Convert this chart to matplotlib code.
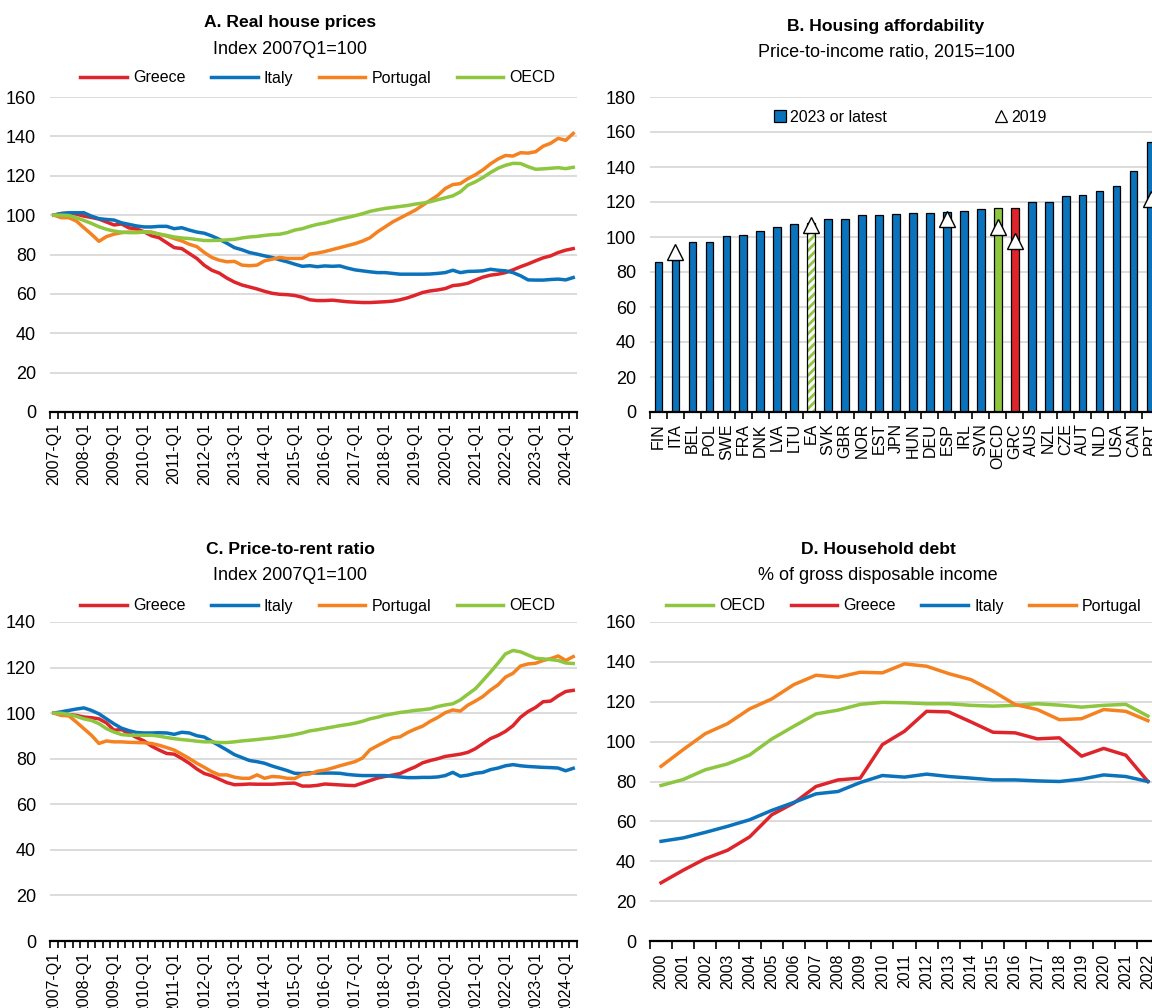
import matplotlib
matplotlib.use('Agg')
import matplotlib.pyplot as plt
from matplotlib.lines import Line2D
import numpy as np

plt.rcParams['font.family'] = ['Liberation Sans', 'DejaVu Sans']
plt.rcParams['font.size'] = 13
plt.rcParams['hatch.linewidth'] = 2.0

RED = '#DE252B'
BLUE = '#0A73BB'
ORANGE = '#F58220'
GREEN = '#8DC63F'
GRID = '#D9D9D9'

W, H = 1152, 1008

# ---- panel A : real house prices, quarterly 2007Q1-2024Q2
quarters = [f'{y}-Q{q}' for y in range(2007, 2025) for q in range(1, 5)][:70]
greece_a = [100, 100.8, 101, 100.5, 99.5, 98.8, 98, 96.5, 95, 95.5,
            93.5, 93, 91.5, 89.5, 88.5, 86, 83.5, 83, 80.5, 78,
            74.5, 72, 70.5, 68, 66, 64.5, 63.5, 62.5, 61.3, 60.3,
            59.8, 59.6, 59.2, 58.3, 57, 56.6, 56.6, 56.8, 56.4, 56,
            55.8, 55.6, 55.6, 55.8, 56, 56.3, 57, 58, 59.3, 60.7,
            61.5, 62, 62.7, 64.2, 64.6, 65.4, 67, 68.5, 69.5, 70,
            70.8, 72.2, 73.8, 75.2, 76.8, 78.3, 79.3, 81, 82.2, 83]
italy_a = [100, 100.8, 101.2, 101.2, 101.2, 99.5, 98.2, 97.8, 97.5, 96.1,
           95.3, 94.5, 94, 94, 94.3, 94.3, 93.1, 93.6, 92.4, 91.4,
           90.8, 89.4, 87.7, 85.7, 83.5, 82.4, 81, 80.2, 79.3, 78.5,
           77.3, 76.3, 75.1, 74, 74.3, 73.8, 74.2, 74, 74.2, 73.1,
           72.2, 71.7, 71.2, 70.8, 70.8, 70.4, 70, 70, 70, 70,
           70.1, 70.4, 70.8, 72, 70.8, 71.4, 71.5, 71.7, 72.5, 72,
           71.7, 70.8, 69.2, 67.1, 67, 67, 67.3, 67.5, 67.1, 68.3]
portugal_a = [100, 98.7, 98.7, 97, 93.6, 90.3, 86.7, 89.1, 90.3, 91.1,
              91.4, 91.4, 91.6, 91.4, 90.3, 89.4, 88.1, 86.9, 85.2, 84,
              81, 78.5, 77.1, 76.3, 76.5, 74.6, 74.3, 74.6, 76.8, 77.6,
              78.5, 78, 78, 78, 80.2, 80.7, 81.5, 82.5, 83.5, 84.5,
              85.5, 86.8, 88.5, 91.5, 94, 96.5, 98.5, 100.5, 102.5, 105,
              107.5, 110, 113.5, 115.5, 116, 118.5, 120.5, 123, 126, 128.5,
              130.3, 130, 131.7, 131.5, 132.2, 135, 136.5, 139, 138, 141.5]
oecd_a = [100, 100, 99.8, 98.7, 97.3, 95.8, 94.1, 92.8, 91.9, 91.4,
          91.1, 91.1, 91.4, 91.1, 90.4, 89.7, 88.9, 88.4, 88.1, 87.6,
          87.1, 87.1, 87.2, 87.4, 87.7, 88.4, 88.9, 89.2, 89.7, 90.1,
          90.3, 91.1, 92.4, 93.1, 94.3, 95.3, 96, 97, 98, 98.8,
          99.7, 100.7, 101.9, 102.7, 103.4, 103.9, 104.4, 104.9, 105.6, 106.1,
          106.8, 107.8, 108.8, 109.8, 111.8, 115.2, 116.9, 119.1, 121.6, 123.8,
          125.3, 126.3, 126.2, 124.6, 123.3, 123.5, 123.8, 124.1, 123.6, 124.3]

# ---- panel B : price-to-income ratio
countries = ['FIN', 'ITA', 'BEL', 'POL', 'SWE', 'FRA', 'DNK', 'LVA', 'LTU', 'EA',
             'SVK', 'GBR', 'NOR', 'EST', 'JPN', 'HUN', 'DEU', 'ESP', 'IRL', 'SVN',
             'OECD', 'GRC', 'AUS', 'NZL', 'CZE', 'AUT', 'NLD', 'USA', 'CAN', 'PRT']
latest = [86, 87, 97, 97.3, 100.5, 101.2, 103.7, 105.6, 107.5, 108,
          110.4, 110.4, 112.5, 112.6, 113, 113.6, 114, 114.5, 114.7, 116.2,
          116.4, 116.8, 120.2, 120.2, 123.4, 124, 126.2, 129.1, 138, 154.3]
tri_countries = ['ITA', 'EA', 'ESP', 'OECD', 'GRC', 'PRT']
tri_2019 = [91.5, 107, 110.4, 105.6, 97.8, 122]

# ---- panel C : price-to-rent ratio
greece_c = [100, 100, 99.4, 99, 98.3, 98, 97.5, 95.7, 92.5, 92.8,
            91, 89.3, 87.8, 85.5, 83.8, 82.3, 82, 80.1, 78, 75.5,
            73.5, 72.5, 71, 69.5, 68.6, 68.7, 68.9, 68.8, 68.8, 68.8,
            69, 69.2, 69.3, 68, 68, 68.3, 68.9, 68.7, 68.5, 68.3,
            68.2, 69.3, 70.4, 71.5, 72.2, 72.8, 73.5, 75, 76.4, 78.2,
            79.2, 80, 81, 81.5, 82, 82.8, 84.4, 86.6, 88.8, 90.2,
            92, 94.5, 98.2, 100.7, 102.5, 105, 105.3, 107.6, 109.5, 110]
italy_c = [100, 100.6, 101.2, 101.8, 102.3, 101.2, 99.7, 97.5, 95.3, 93.4,
           92.3, 91.5, 91.3, 91.3, 91.4, 91.3, 90.7, 91.6, 91.3, 90.1,
           89.5, 87.6, 85.7, 83.8, 81.8, 80.5, 79.2, 78.7, 78, 76.8,
           75.8, 74.8, 73.6, 73.5, 73.8, 73.7, 73.7, 73.7, 73.6, 73.1,
           72.8, 72.6, 72.6, 72.6, 72.6, 72.3, 72, 71.7, 71.7, 71.8,
           71.8, 72, 72.6, 74, 72.3, 72.8, 73.6, 74, 75.2, 75.9,
           76.9, 77.4, 76.9, 76.6, 76.4, 76.2, 76.1, 75.9, 74.7, 75.8]
portugal_c = [100, 99, 98.8, 96.1, 93.2, 90.3, 86.7, 87.8, 87.4, 87.4,
              87.2, 87.1, 87, 86.7, 85.9, 84.9, 83.8, 82, 80.1, 78,
              76.2, 74.3, 72.9, 72.9, 71.9, 71.4, 71.4, 72.9, 71.4, 72.2,
              72, 71.4, 71.3, 73, 73.3, 74.5, 75, 75.9, 76.9, 77.8,
              78.7, 80.3, 83.9, 85.7, 87.4, 89.1, 89.6, 91.5, 93, 94.3,
              96.4, 98.1, 100.2, 101.4, 100.9, 103.5, 105.3, 107.3, 110.1, 112.4,
              115.8, 117.5, 120.7, 121.6, 121.9, 123.1, 123.9, 125.1, 123.1, 124.8]
oecd_c = [100, 100, 99.4, 98.6, 97.5, 96.8, 95.4, 93.2, 91.7, 90.6,
          90.3, 90.3, 90.3, 90.3, 89.9, 89.3, 88.8, 88.4, 88.1, 87.7,
          87.4, 87.4, 87.1, 87.1, 87.4, 87.8, 88.1, 88.4, 88.8, 89.1,
          89.6, 90, 90.6, 91.3, 92.2, 92.7, 93.3, 93.9, 94.5, 95,
          95.6, 96.4, 97.5, 98.2, 99.1, 99.7, 100.3, 100.7, 101.2, 101.5,
          101.9, 102.9, 103.6, 104.1, 105.8, 108.3, 110.7, 114.3, 118, 121.9,
          126, 127.5, 126.9, 125.5, 124.1, 123.8, 123.5, 123.1, 122, 121.8]

# ---- panel D : household debt, annual
years = [str(y) for y in range(2000, 2023)]
oecd_d = [78, 81, 85.9, 88.8, 93.3, 101.3, 107.7, 113.9, 115.8, 118.7, 119.7, 119.5,
          119, 119, 118.2, 117.8, 118.2, 119, 118.3, 117.3, 118.2, 118.7, 112.8]
greece_d = [29.2, 35.5, 41.3, 45.5, 52.2, 63.3, 69.2, 77.5, 80.8, 81.7, 98.5, 105.2,
            115.2, 114.9, 109.9, 104.7, 104.4, 101.4, 101.9, 92.7, 96.6, 93.2, 80]
italy_d = [50, 51.7, 54.5, 57.5, 60.8, 65.5, 69.5, 73.8, 75, 79.5, 83, 82.2,
           83.7, 82.5, 81.7, 80.8, 80.8, 80.3, 80, 81.2, 83.3, 82.5, 80]
portugal_d = [87.6, 96, 104, 109, 116.4, 121.4, 128.6, 133.3, 132.3, 134.8, 134.5, 139,
              137.8, 134.1, 131.1, 125.3, 118.6, 116.1, 111, 111.5, 116.1, 115.2, 110.5]

fig = plt.figure(figsize=(W / 100, H / 100), dpi=100)


def add_ax(l, r, t, b):
    return fig.add_axes([l / W, 1 - b / H, (r - l) / W, (b - t) / H])


def style(ax, ymax, n, ticklen):
    ax.set_ylim(0, ymax)
    ax.set_yticks(np.arange(0, ymax + 1, 20))
    ax.set_xlim(-0.5, n - 0.5)
    ax.grid(axis='y', color=GRID, lw=1.3)
    ax.set_axisbelow(True)
    for s in ['left', 'right', 'top']:
        ax.spines[s].set_visible(False)
    ax.spines['bottom'].set_linewidth(1.6)
    ax.tick_params(axis='y', length=0, pad=10)
    ax.set_xticks(np.arange(-0.5, n, 1), minor=True)
    ax.tick_params(axis='x', which='minor', length=ticklen, width=1.2, direction='out')
    ax.tick_params(axis='x', which='major', length=0, pad=ticklen + 3, labelsize=11.5)


def titles(xc, y1, y2, t1, t2):
    fig.text(xc / W, 1 - y1 / H, t1, ha='center', va='center', fontweight='bold', fontsize=12.6)
    fig.text(xc / W, 1 - y2 / H, t2, ha='center', va='center', fontsize=13)


def line_legend(ax, xc, y):
    fig.legend(*ax.get_legend_handles_labels(), loc='center', bbox_to_anchor=(xc / W, 1 - y / H),
               ncol=4, frameon=False, handlelength=2.9, handletextpad=0.4, columnspacing=1.6,
               fontsize=11.5, borderpad=0)


# A
axA = add_ax(50, 577, 97, 412)
xq = np.arange(len(quarters))
for lab, vals, col in [('Greece', greece_a, RED), ('Italy', italy_a, BLUE),
                       ('Portugal', portugal_a, ORANGE), ('OECD', oecd_a, GREEN)]:
    axA.plot(xq, vals, color=col, lw=2.5, label=lab)
style(axA, 160, len(quarters), 5)
axA.set_xticks(xq[::4])
axA.set_xticklabels(quarters[::4], rotation=90)
titles(290, 22, 50, 'A. Real house prices', 'Index 2007Q1=100')
line_legend(axA, 318, 78)

# B
axB = add_ax(650, 1159, 97, 412)
xb = np.arange(len(countries))
for i, (c, v) in enumerate(zip(countries, latest)):
    if c == 'EA':
        axB.bar(i, v, width=0.45, color='white', edgecolor=GREEN, hatch='////', lw=0)
        axB.bar(i, v, width=0.45, fill=False, edgecolor='black', lw=0.9)
    else:
        col = RED if c == 'GRC' else GREEN if c == 'OECD' else BLUE
        axB.bar(i, v, width=0.45, color=col, edgecolor='black', lw=0.9)
tri_x = [countries.index(c) for c in tri_countries]
axB.plot(tri_x, tri_2019, ls='none', marker='^', ms=11, mfc='white', mec='black', mew=1.0)
style(axB, 180, len(countries), 5)
axB.set_xticks(xb)
axB.set_xticklabels(countries, rotation=90)
handles = [Line2D([], [], ls='none', marker='s', ms=9, mfc=BLUE, mec='black', mew=0.9),
           Line2D([], [], ls='none', marker='^', ms=9, mfc='white', mec='black', mew=0.9)]
fig.legend(handles, ['2023 or latest', '2019'], loc='center', bbox_to_anchor=(910 / W, 1 - 117 / H),
           ncol=2, frameon=False, handlelength=0.8, handletextpad=0.2, columnspacing=6.8,
           fontsize=11.5, borderpad=0)
titles(886, 27, 52, 'B. Housing affordability', 'Price-to-income ratio, 2015=100')

# C
axC = add_ax(50, 577, 622, 941)
for lab, vals, col in [('Greece', greece_c, RED), ('Italy', italy_c, BLUE),
                       ('Portugal', portugal_c, ORANGE), ('OECD', oecd_c, GREEN)]:
    axC.plot(xq, vals, color=col, lw=2.5, label=lab)
style(axC, 140, len(quarters), 5)
axC.set_xticks(xq[::4])
axC.set_xticklabels(quarters[::4], rotation=90)
titles(290, 549, 575, 'C. Price-to-rent ratio', 'Index 2007Q1=100')
line_legend(axC, 318, 606)

# D
axD = add_ax(650, 1159, 622, 941)
xd = np.arange(len(years))
for lab, vals, col in [('OECD', oecd_d, GREEN), ('Greece', greece_d, RED),
                       ('Italy', italy_d, BLUE), ('Portugal', portugal_d, ORANGE)]:
    axD.plot(xd, vals, color=col, lw=2.5, label=lab)
style(axD, 160, len(years), 6)
axD.set_xticks(xd)
axD.set_xticklabels(years, rotation=90)
titles(878, 549, 575, 'D. Household debt', '% of gross disposable income')
line_legend(axD, 904, 606)

fig.savefig('out.png', dpi=100)
